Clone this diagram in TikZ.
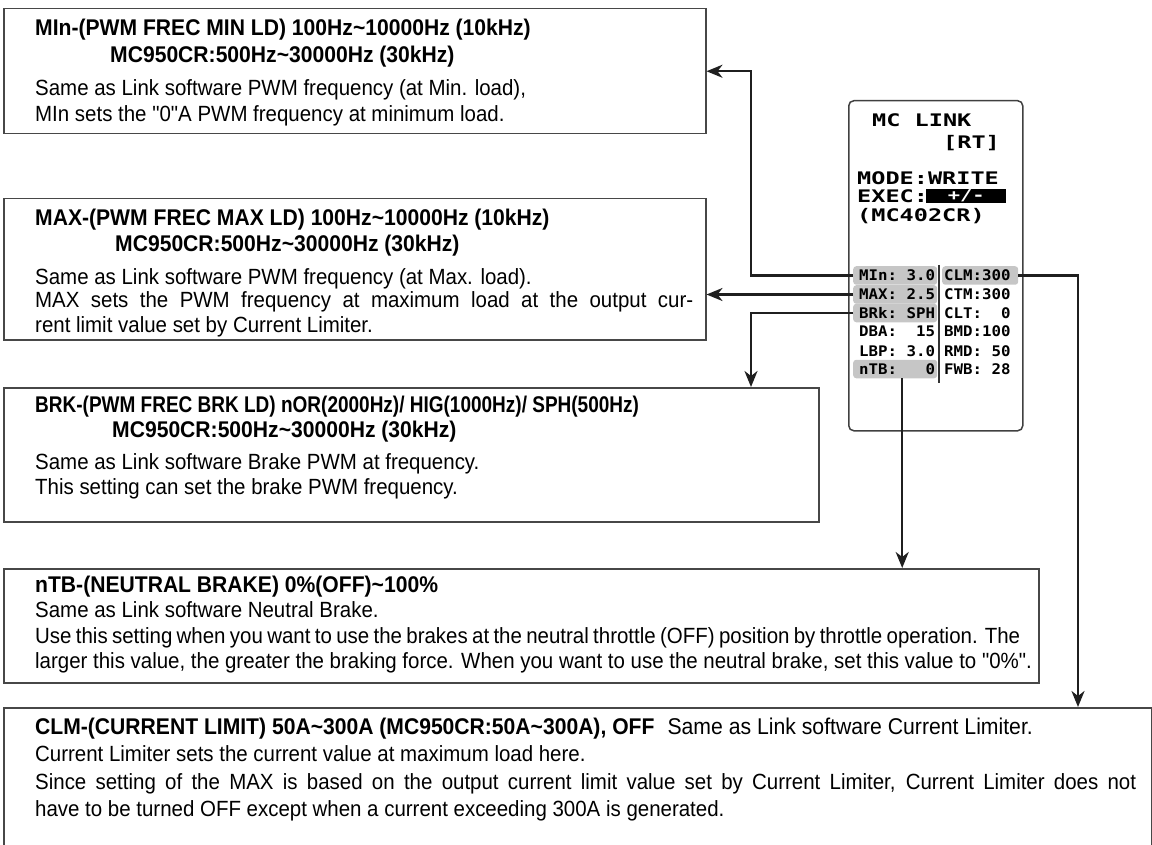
\documentclass[tikz,border=0pt]{standalone}
\usepackage{fontspec}
\setmainfont{Liberation Sans}[Ligatures=TeXOff,FakeStretch=0.93]
\newfontfamily\lcdfont{DejaVu Sans Mono}[FakeStretch=1.36]
\newfontfamily\lcdsmall{DejaVu Sans Mono}[FakeStretch=1.08]
\usetikzlibrary{arrows.meta}
\newcommand{\tld}{\textasciitilde}
\begin{document}
\begin{tikzpicture}[x=1pt,y=-1pt,
  infobox/.style={draw=black!72, line width=1.5pt, anchor=north west, inner sep=0pt},
  ttl/.style={anchor=base west, inner sep=0pt, font=\fontsize{22.7}{26}\selectfont\bfseries},
  bdy/.style={anchor=base west, inner sep=0pt, font=\fontsize{22}{26}\selectfont},
  conn/.style={line width=2.4pt, draw=black!88, line join=miter, -{Stealth[length=16pt,width=13pt,inset=5pt]}},
  hl/.style={fill=gray!45, rounded corners=3pt, inner sep=0pt, minimum height=18.5pt, anchor=west},
  lcdbig/.style={anchor=base west, inner sep=0pt, font=\lcdfont\bfseries\fontsize{17.3}{18}\selectfont},
  lcdsm/.style={anchor=base west, inner sep=0pt, font=\lcdsmall\bfseries\fontsize{14.6}{15}\selectfont},
]
\useasboundingbox (0,0) rectangle (1152,845);
\clip (0,0) rectangle (1152,845);

% info boxes
\node[infobox, minimum width=702pt, minimum height=125pt] (b1) at (3,8) {};
\node[infobox, minimum width=702pt, minimum height=141pt] (b2) at (3,198) {};
\node[infobox, minimum width=815pt, minimum height=134pt] (b3) at (3,387) {};
\node[infobox, minimum width=1035pt, minimum height=114pt] (b4) at (3,568) {};
\node[infobox, minimum width=1148pt, minimum height=160pt] (b5) at (3,707) {};

% box 1
\node[ttl] (t1a) at (35,36) {MIn-(PWM FREC MIN LD) 100Hz\tld10000Hz (10kHz)};
\node[ttl] (t1b) at (110,63) {MC950CR:500Hz\tld30000Hz (30kHz)};
\node[bdy] (t1c) at (35,96) {Same as Link software PWM frequency (at Min. load),};
\node[bdy] (t1d) at (35,122) {MIn sets the "0"A PWM frequency at minimum load.};

% box 2
\node[ttl] (t2a) at (35,226) {MAX-(PWM FREC MAX LD) 100Hz\tld10000Hz (10kHz)};
\node[ttl] (t2b) at (115,252) {MC950CR:500Hz\tld30000Hz (30kHz)};
\node[bdy] (t2c) at (35,284) {Same as Link software PWM frequency (at Max. load).};
\node[bdy] (t2d) at (35,308) {\makebox[658pt][s]{MAX sets the PWM frequency at maximum load at the output cur-}};
\node[bdy] (t2e) at (35,332) {rent limit value set by Current Limiter.};

% box 3
\node[ttl] (t3a) at (35,412) {\scalebox{0.9}[1]{BRK-(PWM FREC BRK LD) nOR(2000Hz)/ HIG(1000Hz)/ SPH(500Hz)}};
\node[ttl] (t3b) at (112,437) {MC950CR:500Hz\tld30000Hz (30kHz)};
\node[bdy] (t3c) at (35,469) {Same as Link software Brake PWM at frequency.};
\node[bdy] (t3d) at (35,494) {This setting can set the brake PWM frequency.};

% box 4
\node[ttl] (t4a) at (35,592) {nTB-(NEUTRAL BRAKE) 0\%(OFF)\tld100\%};
\node[bdy] (t4b) at (35,617) {Same as Link software Neutral Brake.};
\node[bdy] (t4c) at (35,643) {\makebox[985pt][s]{Use this setting when you want to use the brakes at the neutral throttle (OFF) position by throttle operation. The}};
\node[bdy] (t4d) at (35,668) {larger this value, the greater the braking force. When you want to use the neutral brake, set this value to "0\%".};

% box 5
\node[bdy] (t5a) at (35,734) {{\bfseries\fontsize{22.7}{26}\selectfont CLM-(CURRENT LIMIT) 50A\tld300A (MC950CR:50A\tld300A), OFF}\hspace{13pt}\fontsize{22.8}{26}\selectfont Same as Link software Current Limiter.};
\node[bdy] (t5b) at (35,761) {Current Limiter sets the current value at maximum load here.};
\node[bdy] (t5c) at (35,789) {\makebox[1101pt][s]{Since setting of the MAX is based on the output current limit value set by Current Limiter, Current Limiter does not}};
\node[bdy] (t5d) at (35,816) {have to be turned OFF except when a current exceeding 300A is generated.};

% LCD
\node[draw=black!75, line width=1.5pt, rounded corners=5pt, minimum width=174pt, minimum height=330pt, anchor=north west, inner sep=0pt] (lcd) at (848,100) {};
\node[lcdbig] (l1) at (872,127) {MC LINK};
\node[lcdbig] (l2) at (943,149) {[RT]};
\node[lcdbig] (l3) at (857,185) {MODE:WRITE};
\node[lcdbig] (l4) at (857,203) {EXEC:};
\node[fill=black, text=white, minimum width=80pt, minimum height=14pt, inner sep=0pt, anchor=west, font=\lcdfont\bfseries\fontsize{15}{15}\selectfont] (lexec) at (926,196) {+/-};
\node[lcdbig] (l5) at (857,222) {(MC402CR)};

% highlights
\node[hl, minimum width=84pt] (hmin) at (853,275.5) {};
\node[hl, minimum width=84pt] (hmax) at (853,294.5) {};
\node[hl, minimum width=84pt] (hbrk) at (853,313) {};
\node[hl, minimum width=84pt] (hntb) at (853,369) {};
\node[hl, minimum width=76pt] (hclm) at (942,275.5) {};
\draw[line width=1.5pt, black!80] (939,265) -- (939,383);

% table
\node[lcdsm] (r1) at (859,281) {MIn:\ 3.0};
\node[lcdsm] (r2) at (859,300) {MAX:\ 2.5};
\node[lcdsm] (r3) at (859,318.5) {BRk:\ SPH};
\node[lcdsm] (r4) at (859,337) {DBA:\ \ 15};
\node[lcdsm] (r5) at (859,356) {LBP:\ 3.0};
\node[lcdsm] (r6) at (859,374.5) {nTB:\ \ \ 0};
\node[lcdsm] (s1) at (944,281) {CLM:300};
\node[lcdsm] (s2) at (944,300) {CTM:300};
\node[lcdsm] (s3) at (944,318.5) {CLT:\ \ 0};
\node[lcdsm] (s4) at (944,337) {BMD:100};
\node[lcdsm] (s5) at (944,356) {RMD:\ 50};
\node[lcdsm] (s6) at (944,374.5) {FWB:\ 28};

% connectors
\coordinate (k1) at (751,0);
\coordinate (k5) at (1078,0);
\draw[conn] (hmin.west) -| (k1 |- b1.east) -- (b1.east);
\draw[conn] (hmax.west) -- (hmax.west -| b2.east);
\draw[conn] (hbrk.west) -| (k1 |- b3.north);
\draw[conn] ([xshift=7pt]hntb.south) -- ([xshift=7pt]hntb.south |- b4.north);
\draw[conn] (hclm.east) -| (k5 |- b5.north);
\end{tikzpicture}
\end{document}
